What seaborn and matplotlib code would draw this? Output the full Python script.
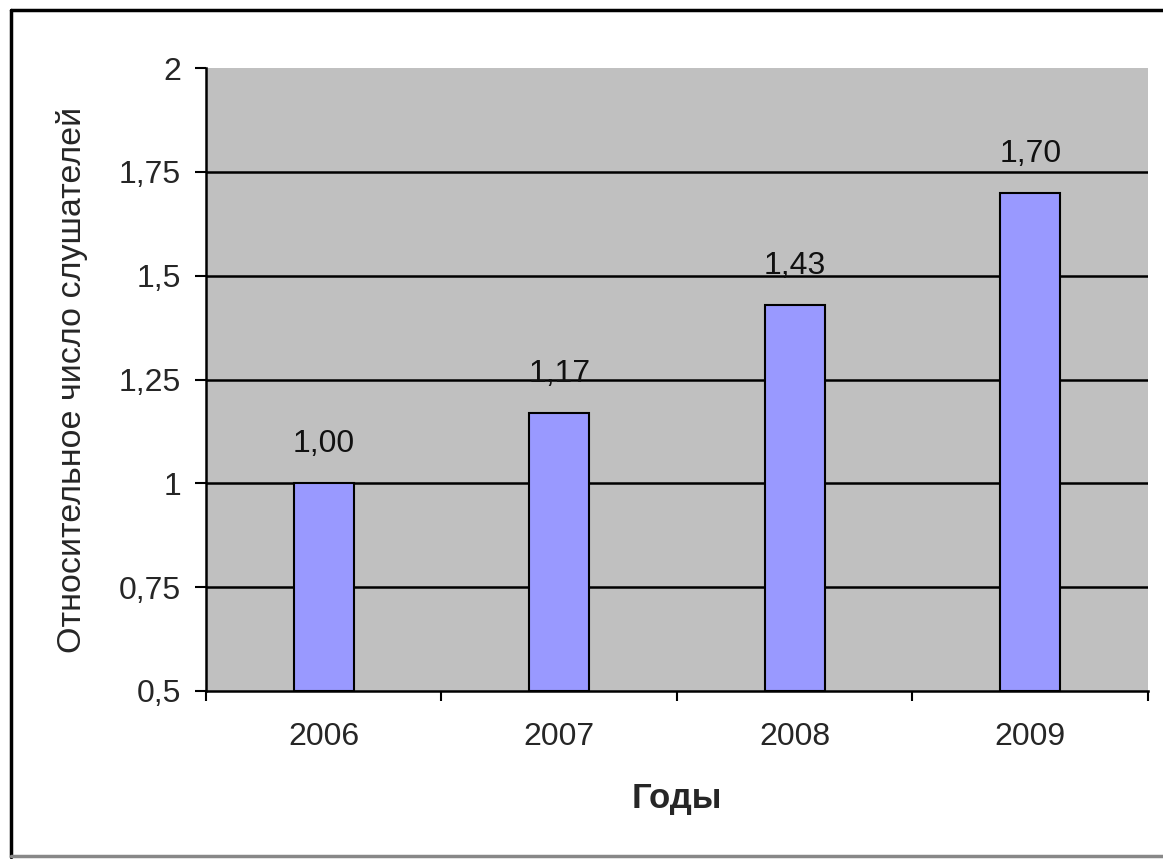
import matplotlib
matplotlib.use("Agg")
import matplotlib.pyplot as plt
from matplotlib.lines import Line2D
import seaborn as sns
import pandas as pd

years = ["2006", "2007", "2008", "2009"]
values = [1.00, 1.17, 1.43, 1.70]
value_labels = ["1,00", "1,17", "1,43", "1,70"]
y_ticks = [0.5, 0.75, 1.0, 1.25, 1.5, 1.75, 2.0]
y_tick_labels = ["0,5", "0,75", "1", "1,25", "1,5", "1,75", "2"]

sns.set_style("white")
plt.rcParams['font.family'] = ['Liberation Sans', 'DejaVu Sans']

df = pd.DataFrame({'year': years, 'value': values})

fig = plt.figure(figsize=(11.63, 8.59), dpi=100)
ax = fig.add_axes([0.1771, 0.1956, 0.81, 0.7252])
ax.set_facecolor("#c0c0c0")

sns.barplot(data=df, x='year', y='value', color="#9999ff", width=0.255,
            edgecolor="black", linewidth=1.5, saturation=1, ax=ax)
# bars from the axis floor of 0.5
for bar in ax.patches:
    bar.set_y(0.5)
    bar.set_height(bar.get_height() - 0.5)
    bar.set_zorder(3)

ax.set_ylim(0.5, 2.0)
ax.set_xlim(-0.5, 3.5)
ax.set_yticks(y_ticks)
ax.set_yticklabels(y_tick_labels)
for y in y_ticks[1:-1]:
    ax.axhline(y, color="black", linewidth=1.8, zorder=1)

# category ticks between the bars
ax.set_xticks([0, 1, 2, 3])
ax.set_xticklabels(years)
ax.set_xticks([-0.5, 0.5, 1.5, 2.5, 3.5], minor=True)
ax.tick_params(axis='x', which='major', length=0, labelsize=23, pad=22)
ax.tick_params(axis='x', which='minor', length=7, width=1.5, color="black",
               direction='out', bottom=True)
ax.tick_params(axis='y', length=8, width=1.5, color="black", direction='out',
               labelsize=23, pad=10, left=True)

for s in ["top", "right"]:
    ax.spines[s].set_visible(False)
for s in ["left", "bottom"]:
    ax.spines[s].set_color("black")
    ax.spines[s].set_linewidth(1.8)
    ax.spines[s].set_zorder(4)

for i, (v, lab) in enumerate(zip(values, value_labels)):
    ax.text(i, v + 0.058, lab, ha='center', va='bottom', fontsize=23, color="#111111")

ax.set_xlabel("Годы", fontsize=25, fontweight='bold', labelpad=22)
ax.set_ylabel("Относительное число слушателей", fontsize=24.5, labelpad=22)

# outer frame of the chart
fig.add_artist(Line2D([0.0095, 0.0095], [0.002, 0.988], color="black", linewidth=2.5, transform=fig.transFigure))
fig.add_artist(Line2D([0.0095, 1.0], [0.988, 0.988], color="black", linewidth=2.5, transform=fig.transFigure))
fig.add_artist(Line2D([0.0095, 1.0], [0.003, 0.003], color="#888888", linewidth=2.5, transform=fig.transFigure))

fig.savefig("out.png", dpi=100)
